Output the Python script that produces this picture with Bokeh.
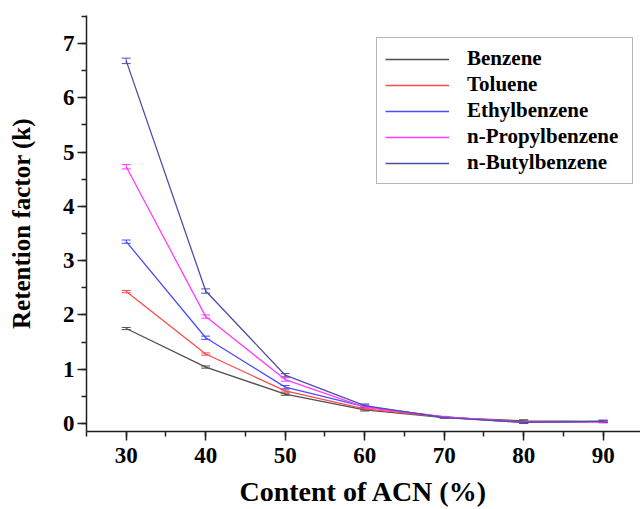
from bokeh.plotting import figure
from bokeh.models import (Legend, LegendItem, Whisker, TeeHead, ColumnDataSource,
                          SingleIntervalTicker, Range1d)
from bokeh.embed import file_html
from bokeh.resources import INLINE

acn = [30, 40, 50, 60, 70, 80, 90]
benzene = [1.75, 1.04, 0.54, 0.25, 0.11, 0.05, 0.04]
toluene = [2.43, 1.28, 0.60, 0.27, 0.12, 0.03, 0.03]
ethylbenzene = [3.35, 1.58, 0.67, 0.31, 0.12, 0.02, 0.04]
propylbenzene = [4.73, 1.97, 0.81, 0.30, 0.12, 0.02, 0.03]
butylbenzene = [6.68, 2.44, 0.89, 0.33, 0.11, 0.02, 0.04]
err_benzene = [0.02, 0.02, 0.02, 0.02, 0.01, 0.02, 0.01]
err_toluene = [0.02, 0.02, 0.02, 0.02, 0.01, 0.01, 0.01]
err_ethyl = [0.03, 0.03, 0.03, 0.03, 0.01, 0.02, 0.02]
err_propyl = [0.04, 0.03, 0.03, 0.02, 0.01, 0.02, 0.02]
err_butyl = [0.05, 0.04, 0.03, 0.03, 0.01, 0.02, 0.02]

names = ["Benzene", "Toluene", "Ethylbenzene", "n-Propylbenzene", "n-Butylbenzene"]
series = [benzene, toluene, ethylbenzene, propylbenzene, butylbenzene]
errors = [err_benzene, err_toluene, err_ethyl, err_propyl, err_butyl]
colors = ["#505050", "#FF4B4B", "#4B4BFF", "#FF3CFF", "#4E4EA8"]

FONT = "Liberation Serif"

p = figure(width=640, height=509, output_backend="svg", toolbar_location=None,
           x_range=Range1d(25.0, 94.7), y_range=Range1d(-0.147, 7.516),
           min_border_left=86, min_border_right=0, min_border_top=15, min_border_bottom=78)
p.outline_line_color = None
p.xgrid.visible = False
p.ygrid.visible = False
p.background_fill_color = "white"
p.border_fill_color = "white"

items = []
for name, ys, es, c in zip(names, series, errors, colors):
    src = ColumnDataSource(dict(x=acn, y=ys,
                                lo=[y - e for y, e in zip(ys, es)],
                                hi=[y + e for y, e in zip(ys, es)]))
    r = p.line("x", "y", source=src, line_color=c, line_width=1.3)
    w = Whisker(base="x", lower="lo", upper="hi", source=src, line_color=c, line_width=1,
                upper_head=TeeHead(size=9, line_color=c, line_width=1),
                lower_head=TeeHead(size=9, line_color=c, line_width=1))
    p.add_layout(w)
    items.append(LegendItem(label=name, renderers=[r]))

legend = Legend(items=items, location=(290, 247), padding=8, spacing=1,
                glyph_width=64, glyph_height=20, label_height=20, label_width=157,
                label_standoff=18, border_line_color="#707070", border_line_width=1.5,
                label_text_font=FONT, label_text_font_style="bold",
                label_text_font_size="21px", label_text_color="black",
                background_fill_alpha=1)
p.add_layout(legend)

for ax in (p.xaxis[0], p.yaxis[0]):
    ax.axis_line_color = "#202020"
    ax.axis_line_width = 1.5
    ax.major_tick_line_color = "#202020"
    ax.minor_tick_line_color = "#202020"
    ax.major_tick_line_width = 1.5
    ax.minor_tick_line_width = 1.5
    ax.major_tick_out = 9
    ax.major_tick_in = 0
    ax.minor_tick_out = 5
    ax.minor_tick_in = 0
    ax.major_label_text_font = FONT
    ax.major_label_text_font_style = "bold"
    ax.major_label_text_font_size = "23px"
    ax.major_label_text_color = "black"
    ax.axis_label_text_font = FONT
    ax.axis_label_text_font_style = "bold"
    ax.axis_label_text_color = "black"

p.xaxis.axis_label_text_font_size = "28px"
p.yaxis.axis_label_text_font_size = "25px"
p.xaxis.major_label_standoff = 7
p.yaxis.major_label_standoff = 3
p.xaxis.ticker = SingleIntervalTicker(interval=10, num_minor_ticks=2)
p.yaxis.ticker = SingleIntervalTicker(interval=1, num_minor_ticks=2)
p.xaxis.axis_label = "Content of ACN (%)"
p.yaxis.axis_label = "Retention factor (k)"
p.xaxis.axis_label_standoff = 10
p.yaxis.axis_label_standoff = 25

open("out.html", "w").write(file_html(p, INLINE))
